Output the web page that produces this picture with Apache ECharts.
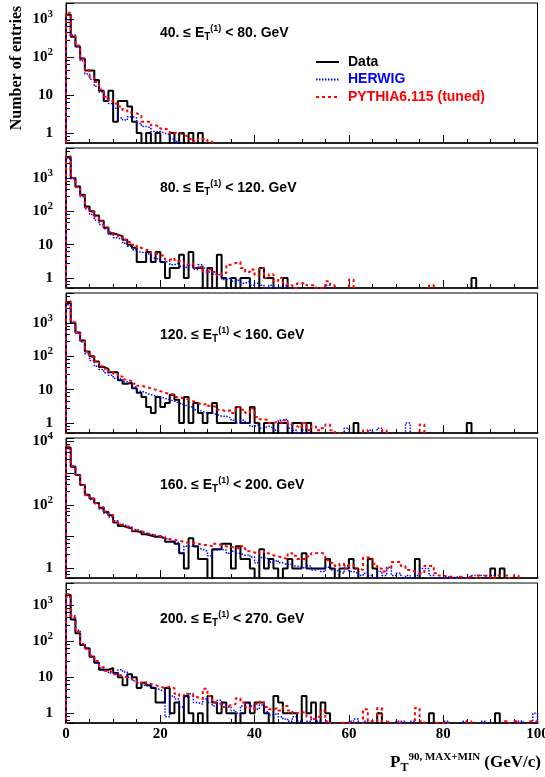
<!DOCTYPE html>
<html>
<head>
<meta charset="utf-8">
<script src="https://cdn.jsdelivr.net/npm/echarts@6/dist/echarts.min.js"></script>
<style>
  html, body { margin: 0; padding: 0; background: #fff; }
  #chart { width: 545px; height: 777px; }
</style>
</head>
<body>
<div id="chart"></div>
<script>
// histograms: 100 bins of 1 GeV/c from 0 to 100, bins past the end of an array are empty
var nBins = 100, xMin = 0, xMax = 100, binWidth = 1;

var etLow = ['40.', '80.', '120.', '160.', '200.'];
var etHigh = ['80.', '120.', '160.', '200.', '270.'];
var xTicks = [0, 20, 40, 60, 80, 100];

// 40 <= ET < 80 GeV
var data40 = [1300, 340, 190, 92, 44, 44, 25, 13, 7, 13, 2, 7, 7, 5, 2, 1, 0, 1, 0, 1, 0, 0, 1, 0, 1, 0, 1, 0, 1];
var herwig40 = [950, 380, 190, 80, 36, 26, 17, 12, 8, 6, 4.5, 2.5, 2.2, 2.7, 2.5, 1.8, 1.5, 1.4, 1.1, 1.1, 1, 0.9, 0.7, 0.6];
var pythia40 = [1450, 360, 200, 90, 45, 30, 22, 14, 9, 7, 6, 5, 4, 3.5, 3.3, 3, 2, 2, 1.6, 1.5, 1.3, 1.2, 1, 1, 0.9, 0.8, 0.7, 0.6, 0.7, 0.7, 0.6];

// 80 <= ET < 120 GeV
var data80 = [4200, 1000, 560, 316, 140, 100, 75, 52, 32, 22, 20, 18, 14, 10, 8, 3, 3, 6, 3, 6,
  3, 1, 2, 2, 5, 1, 6, 2, 2, 0, 2, 0, 5, 1, 0, 1, 0, 1, 1, 0,
  0, 2, 1, 1, 0, 0, 1, 0, 0, 0, 0, 0, 0, 0, 0, 0, 0, 0, 0, 0,
  0, 0, 0, 0, 0, 0, 0, 0, 0, 0, 0, 0, 0, 0, 0, 0, 0, 0, 0, 0,
  0, 0, 0, 0, 0, 0, 1];
var herwig80 = [3800, 950, 520, 280, 120, 80, 55, 40, 30, 20, 16, 14, 11, 9, 7, 6, 5.5, 5, 4, 3.5,
  3, 3.2, 2.5, 2.8, 2.2, 2, 2.4, 1.8, 2.5, 2, 1.5, 1.3, 1.2, 0.9, 1, 0.8, 0.9, 0.7, 0.8, 0.6,
  0.7, 0.6, 0.5, 0.6, 0.5, 0.55, 0.6, 0, 0, 0, 0, 0, 0, 0, 0, 0.6];
var pythia80 = [4500, 1000, 550, 300, 130, 95, 70, 50, 33, 24, 20, 17, 14, 12, 10, 8, 7, 6.5, 5.5, 5,
  4.5, 3.5, 4, 3.2, 3, 2.5, 2.8, 2, 2.2, 1.5, 1.8, 1.5, 1.2, 1.4, 2.5, 2.8, 3, 2, 1.5, 1.8,
  1.2, 2, 1, 1.3, 0.8, 1, 0.7, 0.6, 0.5, 0.7, 0.7, 0.6, 0.6, 0.5, 0.5, 0.8, 0.6, 0, 0, 0,
  0.9, 0, 0, 0, 0, 0, 0, 0, 0, 0, 0, 0, 0, 0, 0, 0, 0, 0.6];

// 120 <= ET < 160 GeV
var data120 = [4000, 1000, 520, 300, 140, 100, 70, 48, 42, 33, 33, 19, 15, 16, 11, 8, 6, 3, 2, 6,
  3, 4, 7, 5, 1, 6, 1, 4, 2, 1, 2, 4, 1, 1, 1, 1, 3, 1, 1, 3,
  1, 0, 1, 1, 0, 1, 1, 0, 1, 1, 0, 1, 0, 0, 0, 0, 0, 0, 0, 0,
  0, 1, 0, 0, 0, 0, 0, 0, 0, 0, 0, 0, 0, 0, 0, 0, 0, 0, 0, 0,
  0, 0, 0, 0, 0, 1];
var herwig120 = [3500, 1000, 500, 270, 120, 75, 50, 40, 32, 27, 22, 20, 17, 15, 12, 9, 8, 7, 6.5, 6,
  5.5, 5, 4.5, 4, 3.5, 3.2, 3, 2.5, 2.2, 2, 2, 1.8, 1.6, 1.6, 1.4, 1.2, 1, 1.2, 1, 0.8,
  0.9, 0.7, 0.8, 0.7, 0.6, 1.2, 1.3, 0.7, 0.6, 0.5, 0.6, 0.5, 0, 0, 0, 0, 0, 0, 0, 0.7,
  0, 0, 0, 0, 0.6, 0, 0.7, 0, 0, 0, 0, 0, 1];
var pythia120 = [4500, 1050, 540, 300, 140, 95, 70, 50, 42, 35, 30, 25, 20, 18, 15, 13, 12, 11, 10, 9,
  8, 7.5, 7, 6, 5.5, 5, 4.5, 4, 3.5, 3.8, 3.3, 3, 2.5, 2.2, 2.4, 2, 3, 2.5, 2, 2.7,
  1.5, 1.3, 1.2, 1, 1.1, 1, 1.2, 0.9, 0.8, 0.7, 1, 0.6, 0.8, 0.6, 0.7, 0.9, 0.6, 0.5, 0, 0,
  0, 0, 0, 0.6, 0, 0, 0, 0.6, 0, 0, 0, 0, 0, 0, 0, 0.9];

// 160 <= ET < 200 GeV
var data160 = [6500, 1600, 890, 430, 210, 160, 115, 82, 60, 48, 28, 22, 20, 18, 15, 14, 12, 11, 10, 10,
  9, 7, 7, 6, 3, 1, 9, 5, 2, 2, 0, 4, 4, 6, 6, 1, 5, 2, 2, 1,
  0, 4, 1, 2, 1, 0, 1, 2, 1, 1, 3, 1, 1, 1, 1, 2, 1, 0, 1, 1,
  2, 1, 0, 0, 2, 1, 0, 0, 0, 0, 0, 0, 0, 0, 2, 0, 0, 0, 0, 0,
  0, 0, 0, 0, 0, 0, 0, 0, 0, 0, 1, 0, 1];
var herwig160 = [6000, 1700, 900, 420, 200, 150, 110, 75, 55, 42, 32, 25, 22, 20, 17, 15, 13, 12, 11, 10,
  9, 8, 7, 6.5, 3.2, 5, 5, 4.5, 4, 3.5, 2.5, 3.8, 4, 3.8, 3, 3.5, 3, 2.6, 2.7, 2.3,
  1.5, 2.2, 2, 1.6, 1.8, 1.5, 1.3, 1.4, 1.2, 1.1, 1, 1.2, 0.9, 1, 0.8, 1.1, 0.9, 0.8, 0.7, 1.2,
  0.8, 0.7, 0.6, 0.7, 0.6, 0.5, 0.8, 0.6, 1.1, 0.6, 0.7, 0.5, 0.6, 0.5, 0.6, 1, 1, 0.6, 0.5, 0.5,
  0.55, 0.5, 0.55, 0, 0.5, 0, 0.6, 0.6, 0.6, 0, 0.6];
var pythia160 = [7000, 1700, 900, 430, 210, 155, 115, 85, 62, 48, 30, 24, 21, 19, 16, 15, 13, 12, 11, 10.5,
  10, 8.5, 8, 7.5, 7, 6.5, 6.5, 6, 5.5, 5.5, 5, 6, 5.5, 5, 4.8, 4.5, 4.2, 5, 3.5, 3.2,
  3, 3.5, 3, 2.6, 2.4, 2.2, 2, 3, 2.5, 2, 2, 2.4, 3, 3.2, 2.8, 1.8, 1.5, 1.2, 1.4, 1,
  1.3, 1, 0.9, 2.2, 2.2, 1.4, 1, 0.8, 1, 1.6, 1.6, 1.2, 0.9, 0.8, 0.7, 0.7, 1.2, 1.2, 0.7, 0.6,
  0.55, 0.55, 0, 0.55, 0, 0.55, 0, 0.6, 0, 0.6, 0, 0.6, 0, 0.6, 0, 0.6];

// 200 <= ET < 270 GeV
var data200 = [1900, 400, 165, 78, 63, 37, 25, 16, 16, 18, 13, 10, 6, 12, 10, 5, 7, 6, 5, 2,
  2, 5, 1, 2, 0, 3, 1, 0, 1, 0, 3, 2, 1, 2, 1, 1, 0, 1, 2, 1,
  2, 2, 1, 0, 3, 2, 1, 1, 1, 0, 3, 1, 2, 0, 2, 1, 0, 0, 0, 0,
  0, 0, 0, 0, 0, 0, 1, 0, 0, 0, 0, 0, 0, 0, 0, 0, 0, 1, 0, 0,
  0, 0, 0, 0, 0, 0, 0, 0, 0, 0, 0, 1];
var herwig200 = [1700, 500, 200, 85, 60, 38, 25, 18, 15, 13, 12, 16, 14, 10, 8, 7, 6, 5.5, 5, 4.5,
  4, 0.8, 3, 2.5, 1.5, 2.8, 3.5, 2, 1.8, 2.5, 2, 1.6, 2.3, 1.8, 1.5, 1.2, 1, 1.6, 1.9, 1.6,
  1.3, 1.7, 1.1, 0.9, 1, 0.8, 0.7, 0.6, 0.8, 0.6, 0.5, 0.6, 0.7, 0.6, 0.5, 0.6, 0, 0, 0, 0,
  0.6, 0.7, 0, 0.6, 0, 0, 0, 0, 0, 0, 0.6, 0.6, 0, 0.6, 0, 0, 0, 0, 0, 0,
  0.6, 0, 0, 0, 0.6, 0, 0, 0, 0.6, 0, 0, 0, 0, 0, 0, 0.6, 0.6, 0, 0, 1];
var pythia200 = [2000, 450, 180, 80, 62, 40, 28, 19, 15, 14, 12, 11, 10, 9, 8, 7, 7.5, 6.5, 6, 5.5,
  5, 5.5, 5, 3.5, 3, 3.5, 3.2, 2.8, 2.5, 4.8, 3, 2, 1.8, 1.5, 1.7, 1.8, 2.6, 2, 1.5, 1.3,
  1.8, 2.1, 1.5, 1.3, 1.4, 1.2, 1.6, 1.2, 1, 1.1, 1, 0.8, 0.7, 0.8, 1.2, 0.6, 0.5, 0, 0.55, 0,
  0.55, 0, 0, 1.3, 0.6, 0.6, 1.4, 0.6, 0.55, 0, 0.55, 0, 0, 0, 1.4, 0.6, 0, 0, 0.55, 0,
  0.55, 0, 0, 0, 0, 0.6, 0, 0, 0, 0, 0, 0, 0, 0.6, 0, 0.6, 0, 0, 0.6, 0.6];

var dataSets = [data40, data80, data120, data160, data200];
var herwigSets = [herwig40, herwig80, herwig120, herwig160, herwig200];
var pythiaSets = [pythia40, pythia80, pythia120, pythia160, pythia200];

// panel layout
var panelTop = [3, 148, 293, 438, 583];
var panelHeight = 140;
var yMin = [0.55, 0.5, 0.5, 0.5, 0.54];
var yMax = [2630, 7940, 7940, 13000, 4070];
var yLabelExps = [[0, 1, 2, 3], [0, 1, 2, 3], [0, 1, 2, 3], [0, 2, 4], [0, 1, 2, 3]];
var textY = [33, 188, 335, 485, 619];

var serifFont = '"Liberation Serif", "DejaVu Serif", serif';
var sansFont = '"Liberation Sans", Arial, sans-serif';

// bin contents -> step points, empty bins go below the frame (log axis)
function histPoints(vals) {
    var floor = 0.01;
    var pts = [[xMin, floor]];
    for (var i = 0; i < nBins; i++) {
        var v = i < vals.length ? vals[i] : 0;
        pts.push([xMin + i * binWidth, v > 0 ? v : floor]);
    }
    pts.push([xMax, pts[pts.length - 1][1]]);
    pts.push([xMax, floor]);
    return pts;
}

function yLabel(k) {
    return function (v) {
        var e = Math.log10(v);
        var n = Math.round(e);
        if (Math.abs(e - n) > 1e-6 || yLabelExps[k].indexOf(n) < 0) return '';
        if (n === 0) return '{b|1}';
        if (n === 1) return '{b|10}';
        return '{b|10}{s|' + n + '}';
    };
}

var grids = [], xAxes = [], yAxes = [], series = [], graphics = [];

for (var k = 0; k < 5; k++) {
    grids.push({
        left: 66, right: 7.5, top: panelTop[k], height: panelHeight,
        outerBoundsMode: 'none', containLabel: false,
        show: true, borderColor: '#000', borderWidth: 1
    });
    xAxes.push({
        type: 'value', gridIndex: k, min: xMin, max: xMax, interval: 20,
        axisLine: { show: true, onZero: false, lineStyle: { color: '#222', width: 2 } },
        axisTick: { inside: true, length: 8, lineStyle: { color: '#000' } },
        minorTick: { show: true, splitNumber: 4, length: 4, lineStyle: { color: '#000' } },
        splitLine: { show: false },
        axisLabel: {
            show: k === 4, margin: 4, color: '#000',
            fontFamily: serifFont, fontWeight: 'bold', fontSize: 15,
            formatter: function (v) { return xTicks.indexOf(v) >= 0 ? String(v) : ''; }
        }
    });
    yAxes.push({
        type: 'log', logBase: 10, gridIndex: k, min: yMin[k], max: yMax[k],
        axisLine: { show: true, lineStyle: { color: '#000', width: 1 } },
        axisTick: { inside: true, length: 8, lineStyle: { color: '#000' } },
        minorTick: { show: true, splitNumber: 5, length: 4, lineStyle: { color: '#000' } },
        splitLine: { show: false },
        axisLabel: {
            margin: 13, color: '#000', formatter: yLabel(k),
            showMinLabel: false, showMaxLabel: false,
            rich: {
                b: { fontFamily: serifFont, fontWeight: 'bold', fontSize: 15, color: '#000' },
                s: { fontFamily: serifFont, fontWeight: 'bold', fontSize: 11, color: '#000', padding: [0, 0, 10, 0] }
            }
        }
    });

    series.push({
        name: 'Data', type: 'line', xAxisIndex: k, yAxisIndex: k, step: 'end',
        symbol: 'none', data: histPoints(dataSets[k]), z: 2,
        lineStyle: { color: '#000', width: 2 }, itemStyle: { color: '#000' }
    });
    series.push({
        name: 'HERWIG', type: 'line', xAxisIndex: k, yAxisIndex: k, step: 'end',
        symbol: 'none', data: histPoints(herwigSets[k]), z: 3,
        lineStyle: { color: '#0000ff', width: 1.5, type: [1.5, 1.5] }, itemStyle: { color: '#0000ff' }
    });
    series.push({
        name: 'PYTHIA6.115 (tuned)', type: 'line', xAxisIndex: k, yAxisIndex: k, step: 'end',
        symbol: 'none', data: histPoints(pythiaSets[k]), z: 4,
        lineStyle: { color: '#ff0000', width: 2, type: [3, 3] }, itemStyle: { color: '#ff0000' }
    });

    graphics.push({
        type: 'text', left: 160, top: textY[k] - 9, z: 10,
        style: {
            text: '{m|' + etLow[k] + ' \u2264 E}{sub|T}{sup|(1)}{m| < ' + etHigh[k] + ' GeV}',
            rich: {
                m: { fontFamily: sansFont, fontWeight: 'bold', fontSize: 14, fill: '#000' },
                sub: { fontFamily: sansFont, fontWeight: 'bold', fontSize: 10, fill: '#000', padding: [9, 0, 0, 0] },
                sup: { fontFamily: sansFont, fontWeight: 'bold', fontSize: 9, fill: '#000', padding: [0, 0, 9, 0] }
            }
        }
    });
}

// y title
graphics.push({
    type: 'text', x: 17, y: 68, rotation: Math.PI / 2, z: 10,
    style: {
        text: 'Number of entries', align: 'center', verticalAlign: 'middle',
        font: 'bold 16px ' + serifFont, fill: '#000'
    }
});
// x title
graphics.push({
    type: 'text', right: 4, top: 752, z: 10,
    style: {
        text: '{p|P}{sub|T}{sup|90, MAX+MIN}{u| (GeV/c)}',
        rich: {
            p: { fontFamily: serifFont, fontWeight: 'bold', fontSize: 17, fill: '#000' },
            sub: { fontFamily: serifFont, fontWeight: 'bold', fontSize: 12, fill: '#000', padding: [10, 0, 0, 0] },
            sup: { fontFamily: serifFont, fontWeight: 'bold', fontSize: 11, fill: '#000', padding: [0, 0, 10, 0] },
            u: { fontFamily: serifFont, fontWeight: 'bold', fontSize: 17, fill: '#000' }
        }
    }
});

var chart = echarts.init(document.getElementById('chart'));
chart.setOption({
    animation: false,
    backgroundColor: '#fff',
    grid: grids,
    xAxis: xAxes,
    yAxis: yAxes,
    series: series,
    graphic: graphics,
    legend: {
        orient: 'vertical', left: 315, top: 55, padding: 0,
        itemWidth: 23, itemHeight: 14, itemGap: 3.5,
        selectedMode: false,
        itemStyle: { opacity: 0 },
        textStyle: { fontFamily: sansFont, fontWeight: 'bold', fontSize: 14, lineHeight: 14, padding: [0, 0, 0, 4] },
        data: [
            { name: 'Data', textStyle: { color: '#000' } },
            { name: 'HERWIG', textStyle: { color: '#0000ff' } },
            { name: 'PYTHIA6.115 (tuned)', textStyle: { color: '#ff0000' } }
        ]
    }
});
</script>
</body>
</html>
